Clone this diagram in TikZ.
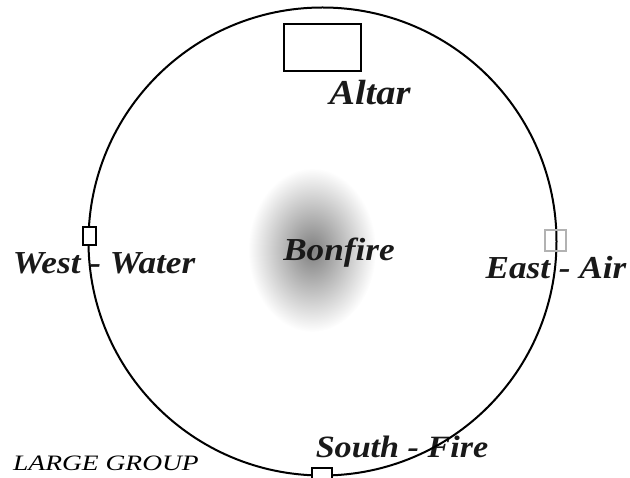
\documentclass[tikz,border=0pt]{standalone}
\usepackage{fontspec}
\setmainfont{Liberation Serif}
\newfontfamily\widefont[FakeStretch=1.1]{Liberation Serif}
\newfontfamily\grpfont[FakeStretch=1.25]{Liberation Serif}
\begin{document}
\begin{tikzpicture}[x=1pt,y=-1pt,
  lbl/.style={font=\widefont\fontsize{32}{32}\selectfont\bfseries\itshape, inner sep=0pt, text=black!90},
  grp/.style={font=\grpfont\fontsize{22}{22}\selectfont\itshape, inner sep=0pt},
  marker/.style={draw, line width=2pt, inner sep=0pt, fill=white}]
\useasboundingbox (0,0) rectangle (630,478);
\shade[inner color=black!50, outer color=white] (312,250) ellipse [x radius=64, y radius=82];
\node[lbl, font=\widefont\fontsize{35}{35}\selectfont\bfseries\itshape] (altar) at (370,93) {Altar};
\node[lbl] (bonfire) at (339,253) {Bonfire};
\node[lbl] (west) at (104,263) {West - Water};
\node[lbl] (east) at (556,268) {East - Air};
\node[lbl, font=\widefont\fontsize{31}{31}\selectfont\bfseries\itshape] (south) at (402,447) {South - Fire};
\node[grp] (group) at (106,463) {LARGE GROUP};
\node[circle, draw, line width=2pt, minimum size=468pt, inner sep=0pt] (ring) at (322.5,241.5) {};
\node[marker, minimum width=77pt, minimum height=47pt] (altarbox) at (322.5,47.5) {};
\node[marker, line width=1.6pt, minimum width=13pt, minimum height=18pt] (westbox) at (89.5,236) {};
\node[marker, draw=black!30, minimum width=21pt, minimum height=21pt, fill=none] (eastbox) at (555,241) {};
\node[marker, line width=1.6pt, minimum width=20pt, minimum height=14pt] (southbox) at (322,475) {};
\end{tikzpicture}
\end{document}
